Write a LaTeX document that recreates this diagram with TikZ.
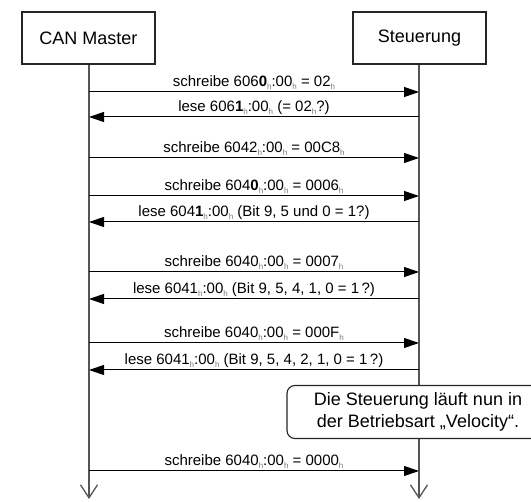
\documentclass[tikz,border=0pt]{standalone}
\usepackage{fontspec}
\setmainfont{Liberation Sans}
\usetikzlibrary{arrows.meta}
\definecolor{lifegray}{HTML}{555555}
\definecolor{subgray}{HTML}{7A7A7A}
\newcommand{\hsub}{\raisebox{-3.5pt}{\fontsize{8}{8}\selectfont\textcolor{subgray}{h}}}
\begin{document}
\begin{tikzpicture}[x=1pt,y=-1pt,
  actor/.style={draw=black!85, line width=1.1pt, fill=white, minimum width=133pt, minimum height=52pt, font=\fontsize{18}{21}\selectfont, inner sep=0pt},
  msg/.style={draw=black, line width=1pt, -{Triangle[length=15pt,width=10pt]}},
  lbl/.style={font=\fontsize{15}{17}\selectfont, anchor=base, inner sep=0pt},
  life/.style={draw=lifegray, line width=1.3pt, -{Straight Barb[length=13pt,width=17pt]}},
  notebox/.style={draw=black!85, line width=1.1pt, fill=white, rounded corners=8pt, minimum width=262pt, minimum height=53pt, align=center, font=\fontsize{18}{22}\selectfont, inner sep=0pt}]
\path[use as bounding box, clip] (0,0) rectangle (531,502);
\fill[white] (0,0) rectangle (531,502);

% lifelines
\coordinate (cmEnd) at (89,499);
\coordinate (stEnd) at (419,499);
\draw[life] (89,64) -- (cmEnd);
\draw[life] (419,64) -- (stEnd);

% actors
\node[actor] (cm) at (88.5,38) {CAN Master};
\node[actor] (st) at (419.5,38) {Steuerung};

% note
\node[notebox] (note) at (418,412) {Die Steuerung läuft nun in\\der Betriebsart „Velocity“.};

% message end points
\foreach \n/\y in {1/92,2/117,3/158,4/196,5/222,6/272,7/299,8/343,9/370,10/471}{
  \coordinate (l\n) at (89,\y);
  \coordinate (r\n) at (419,\y);
  \coordinate (t\n) at (254,\y-5.5);
}

\draw[msg] (l1) -- (r1);
\node[lbl] (m1) at (t1) {schreibe 606\textbf{0}\hsub:00\hsub{} = 02\hsub};
\draw[msg] (r2) -- (l2);
\node[lbl] (m2) at (t2) {lese 606\textbf{1}\hsub:00\hsub{} (= 02\hsub?)};
\draw[msg] (l3) -- (r3);
\node[lbl] (m3) at (t3) {schreibe 6042\hsub:00\hsub{} = 00C8\hsub};
\draw[msg] (l4) -- (r4);
\node[lbl] (m4) at (t4) {schreibe 604\textbf{0}\hsub:00\hsub{} = 0006\hsub};
\draw[msg] (r5) -- (l5);
\node[lbl] (m5) at (t5) {lese 604\textbf{1}\hsub:00\hsub{} (Bit 9, 5 und 0 = 1?)};
\draw[msg] (l6) -- (r6);
\node[lbl] (m6) at (t6) {schreibe 6040\hsub:00\hsub{} = 0007\hsub};
\draw[msg] (r7) -- (l7);
\node[lbl] (m7) at (t7) {lese 6041\hsub:00\hsub{} (Bit 9, 5, 4, 1, 0 = 1\,?)};
\draw[msg] (l8) -- (r8);
\node[lbl] (m8) at (t8) {schreibe 6040\hsub:00\hsub{} = 000F\hsub};
\draw[msg] (r9) -- (l9);
\node[lbl] (m9) at (t9) {lese 6041\hsub:00\hsub{} (Bit 9, 5, 4, 2, 1, 0 = 1\,?)};
\draw[msg] (l10) -- (r10);
\node[lbl] (m10) at (t10) {schreibe 6040\hsub:00\hsub{} = 0000\hsub};
\end{tikzpicture}
\end{document}
